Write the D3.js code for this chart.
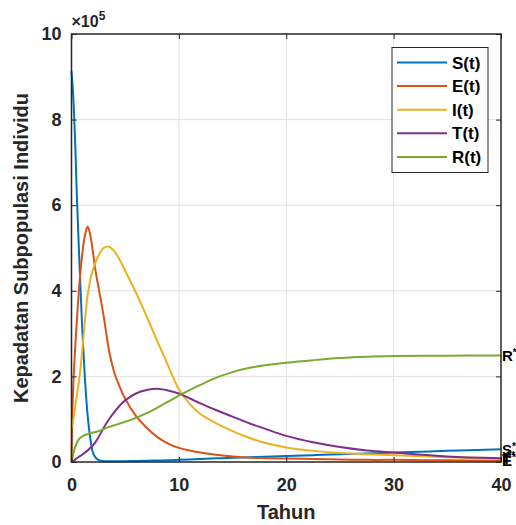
<!DOCTYPE html>
<html>
<head>
<meta charset="utf-8">
<script src="https://cdn.jsdelivr.net/npm/d3@7"></script>
<style>
  body { margin: 0; background: #fff; }
  svg { font-family: "Liberation Sans", Arial, sans-serif; }
</style>
</head>
<body>
<div id="chart"></div>
<script>
// datos (unidades de 10^5 individuos)
var tahun = [0, 0.1, 0.2, 0.35, 0.5, 0.75, 1, 1.25, 1.5, 1.75, 2, 2.25, 2.5, 3, 3.5, 4, 4.5, 5, 6, 7, 8, 9, 10, 11, 12, 13.5, 15, 16.6, 18, 20, 22.5, 25, 27.5, 30, 35, 40];
var S = [9.13, 8.8, 8.35, 7.4, 6.2, 4.6, 3.1, 1.95, 1.1, 0.55, 0.22, 0.1, 0.05, 0.02, 0.015, 0.015, 0.015, 0.02, 0.025, 0.03, 0.035, 0.04, 0.05, 0.06, 0.07, 0.085, 0.1, 0.11, 0.125, 0.14, 0.16, 0.18, 0.2, 0.22, 0.26, 0.3];
var E = [0, 1.3, 2.0, 2.7, 3.3, 4.2, 4.85, 5.3, 5.5, 5.3, 4.9, 4.45, 4.1, 3.4, 2.6, 2.08, 1.75, 1.48, 1.08, 0.8, 0.58, 0.43, 0.33, 0.27, 0.22, 0.17, 0.13, 0.1, 0.09, 0.08, 0.07, 0.06, 0.05, 0.05, 0.04, 0.03];
var I = [0.8, 0.9, 1.05, 1.3, 1.55, 2.0, 2.6, 3.3, 3.9, 4.25, 4.5, 4.67, 4.82, 5.0, 5.03, 4.92, 4.72, 4.47, 3.96, 3.4, 2.82, 2.25, 1.7, 1.36, 1.12, 0.9, 0.72, 0.56, 0.45, 0.34, 0.26, 0.21, 0.18, 0.16, 0.11, 0.07];
var T = [0, 0.01, 0.03, 0.06, 0.09, 0.13, 0.17, 0.22, 0.27, 0.33, 0.39, 0.47, 0.57, 0.8, 1.0, 1.17, 1.32, 1.44, 1.6, 1.68, 1.71, 1.67, 1.6, 1.49, 1.37, 1.21, 1.06, 0.9, 0.78, 0.61, 0.46, 0.35, 0.27, 0.22, 0.13, 0.09];
var R = [0, 0.12, 0.23, 0.36, 0.45, 0.55, 0.6, 0.63, 0.65, 0.67, 0.69, 0.7, 0.72, 0.77, 0.82, 0.86, 0.9, 0.94, 1.03, 1.14, 1.27, 1.41, 1.55, 1.68, 1.8, 1.97, 2.1, 2.2, 2.26, 2.32, 2.38, 2.43, 2.46, 2.475, 2.485, 2.49];

var namaSeri = ["S(t)", "E(t)", "I(t)", "T(t)", "R(t)"];
var labelAkhir = ["S", "E", "I", "T", "R"];
var warna = ["#0072BD", "#D95319", "#EDB120", "#7E2F8E", "#77AC30"];
var dataSeri = [S, E, I, T, R];

var ticksX = [0, 10, 20, 30, 40];
var ticksY = [0, 2, 4, 6, 8, 10];

// Configuración del lienzo SVG
var svgWidth = 516, svgHeight = 525;
var margin = {top: 34, right: 15, bottom: 63, left: 71.5};
var width = svgWidth - margin.left - margin.right;
var height = svgHeight - margin.top - margin.bottom;
var ejeColor = "#262626";

var xScale = d3.scaleLinear().domain([0, 40]).range([0, width]);
var yScale = d3.scaleLinear().domain([0, 10]).range([height, 0]);

var svg = d3.select("#chart")
    .append("svg")
    .attr("width", svgWidth)
    .attr("height", svgHeight)
  .append("g")
    .attr("transform", "translate(" + margin.left + "," + margin.top + ")");

// Rejilla
svg.selectAll(".gx")
    .data(ticksX.slice(1, -1))
  .enter().append("line")
    .attr("x1", function(d) { return xScale(d); })
    .attr("x2", function(d) { return xScale(d); })
    .attr("y1", 0).attr("y2", height)
    .attr("stroke", "#e1e1e1").attr("stroke-width", 1);

svg.selectAll(".gy")
    .data(ticksY.slice(1, -1))
  .enter().append("line")
    .attr("y1", function(d) { return yScale(d); })
    .attr("y2", function(d) { return yScale(d); })
    .attr("x1", 0).attr("x2", width)
    .attr("stroke", "#e1e1e1").attr("stroke-width", 1);

// Líneas
var line = d3.line()
    .x(function(d, i) { return xScale(tahun[i]); })
    .y(function(d) { return yScale(d); })
    .curve(d3.curveCatmullRom.alpha(0.5));

dataSeri.forEach(function(serie, k) {
  svg.append("path")
      .datum(serie)
      .attr("d", line)
      .attr("fill", "none")
      .attr("stroke", warna[k])
      .attr("stroke-width", 2);
});

// Ejes (ticks hacia adentro)
var ejeX = svg.append("g")
    .attr("transform", "translate(0," + height + ")")
    .call(d3.axisBottom(xScale).tickValues(ticksX).tickSizeInner(-5).tickSizeOuter(0).tickPadding(16));
var ejeXTop = svg.append("g")
    .call(d3.axisTop(xScale).tickValues(ticksX).tickSizeInner(-5).tickSizeOuter(0).tickFormat(""));
var ejeY = svg.append("g")
    .call(d3.axisLeft(yScale).tickValues(ticksY).tickSizeInner(-5).tickSizeOuter(0).tickPadding(10));
var ejeYRight = svg.append("g")
    .attr("transform", "translate(" + width + ",0)")
    .call(d3.axisRight(yScale).tickValues(ticksY).tickSizeInner(-5).tickSizeOuter(0).tickFormat(""));

[ejeX, ejeXTop, ejeY, ejeYRight].forEach(function(g) {
  g.select(".domain").remove();
  g.selectAll("line").attr("stroke", ejeColor).attr("stroke-width", 1);
  g.selectAll("text")
      .attr("fill", ejeColor)
      .style("font-size", "18px")
      .style("font-weight", "bold")
      .style("font-family", "'Liberation Sans', Arial, sans-serif");
});

svg.append("rect")
    .attr("width", width).attr("height", height)
    .attr("fill", "none")
    .attr("stroke", ejeColor)
    .attr("stroke-width", 1.5);

// Multiplicador x10^5
var mult = svg.append("text")
    .attr("x", 0)
    .attr("y", -7.5)
    .attr("fill", ejeColor)
    .style("font-size", "16px")
    .style("font-weight", "bold");
mult.append("tspan").text("\u00d710");
mult.append("tspan").attr("dy", -7).style("font-size", "12px").text("5");

// Etiquetas al final de cada línea
[0, 3, 2, 1, 4].forEach(function(k) {
  var serie = dataSeri[k];
  var t = svg.append("text")
      .attr("x", width + 1)
      .attr("y", yScale(serie[serie.length - 1]))
      .attr("dy", "0.36em")
      .attr("fill", "#000")
      .style("font-size", "15px")
      .style("font-weight", "bold");
  t.append("tspan").text(labelAkhir[k]);
  t.append("tspan").attr("dy", -5).style("font-size", "10px").text("*");
});

// Leyenda
var leyenda = svg.append("g")
    .attr("transform", "translate(" + (392 - margin.left) + "," + (47.5 - margin.top) + ")");
leyenda.append("rect")
    .attr("width", 96).attr("height", 125)
    .attr("fill", "#fff")
    .attr("stroke", ejeColor)
    .attr("stroke-width", 1);
namaSeri.forEach(function(nama, k) {
  var yy = 15 + k * 23.6;
  leyenda.append("line")
      .attr("x1", 5).attr("x2", 55)
      .attr("y1", yy).attr("y2", yy)
      .attr("stroke", warna[k])
      .attr("stroke-width", 2);
  leyenda.append("text")
      .attr("x", 60).attr("y", yy)
      .attr("dy", "0.36em")
      .attr("fill", "#000")
      .style("font-size", "17px")
      .style("font-weight", "bold")
      .text(nama);
});

// Títulos de ejes
svg.append("text")
    .attr("x", width / 2)
    .attr("y", height + 57)
    .style("text-anchor", "middle")
    .style("font-size", "20px")
    .style("font-weight", "bold")
    .attr("fill", ejeColor)
    .text("Tahun");

svg.append("text")
    .attr("transform", "rotate(-90)")
    .attr("x", -height / 2)
    .attr("y", -44)
    .style("text-anchor", "middle")
    .style("font-size", "20px")
    .style("font-weight", "bold")
    .attr("fill", ejeColor)
    .text("Kepadatan Subpopulasi Individu");
</script>
</body>
</html>
